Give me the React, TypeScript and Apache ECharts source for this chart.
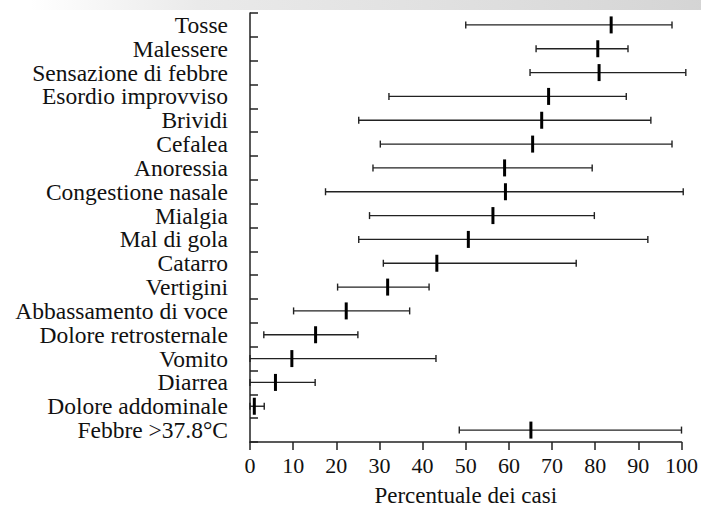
import React, { useEffect, useRef } from "react";
import * as echarts from "echarts";

const categories = [
  "Tosse",
  "Malessere",
  "Sensazione di febbre",
  "Esordio improvviso",
  "Brividi",
  "Cefalea",
  "Anoressia",
  "Congestione nasale",
  "Mialgia",
  "Mal di gola",
  "Catarro",
  "Vertigini",
  "Abbassamento di voce",
  "Dolore retrosternale",
  "Vomito",
  "Diarrea",
  "Dolore addominale",
  "Febbre >37.8°C",
];

const lowValues = [50, 66.3, 64.9, 32.2, 25.2, 30.2, 28.5, 17.5, 27.7, 25.2, 30.9, 20.3, 10.1, 3.2, 0, 0, 0, 48.5];
const midValues = [83.7, 80.6, 80.9, 69.2, 67.6, 65.5, 59.0, 59.2, 56.3, 50.6, 43.3, 31.9, 22.3, 15.2, 9.7, 5.9, 1.0, 65.1];
const highValues = [97.8, 87.6, 101, 87.2, 92.9, 97.8, 79.3, 100.4, 79.8, 92.2, 75.6, 41.5, 37.0, 25.0, 43.1, 15.1, 3.3, 100];

const xTicks = [0, 10, 20, 30, 40, 50, 60, 70, 80, 90, 100];

const FONT = "Liberation Serif";

export default function App() {
  const ref = useRef<HTMLDivElement>(null);

  useEffect(() => {
    if (!ref.current) return;
    const chart = echarts.init(ref.current, undefined, { renderer: "svg" });
    const data = categories.map((_, i) => [i, lowValues[i], midValues[i], highValues[i]]);

    chart.setOption({
      animation: false,
      backgroundColor: "#ffffff",
      textStyle: { fontFamily: FONT },
      graphic: [
        {
          type: "rect",
          left: 30,
          top: 0,
          shape: { width: 671, height: 10 },
          silent: true,
          style: {
            fill: new echarts.graphic.LinearGradient(0, 0, 1, 0, [
              { offset: 0, color: "rgba(225,225,225,0)" },
              { offset: 0.25, color: "rgba(225,225,225,0.7)" },
              { offset: 1, color: "rgba(205,205,205,0.85)" },
            ]),
          },
        },
      ],
      grid: { left: 250, right: 18, top: 13, bottom: 71, containLabel: false },
      xAxis: {
        type: "value",
        min: xTicks[0],
        max: xTicks[xTicks.length - 1],
        interval: 10,
        name: "Percentuale dei casi",
        nameLocation: "middle",
        nameGap: 42,
        nameTextStyle: { fontFamily: FONT, fontSize: 23, color: "#111" },
        axisLine: { show: true, lineStyle: { color: "#222", width: 1.5 } },
        axisTick: { show: true, inside: false, length: 8, lineStyle: { color: "#222", width: 1.5 } },
        axisLabel: { fontFamily: FONT, fontSize: 22, color: "#111", margin: 12 },
        splitLine: { show: false },
      },
      yAxis: {
        type: "category",
        inverse: true,
        data: categories,
        axisLine: { show: true, lineStyle: { color: "#222", width: 1.5 } },
        axisTick: { show: true, inside: true, length: 8, alignWithLabel: false, lineStyle: { color: "#222", width: 1.5 } },
        axisLabel: { fontFamily: FONT, fontSize: 23.5, color: "#111", margin: 22, interval: 0 },
        splitLine: { show: false },
      },
      series: [
        {
          type: "custom",
          clip: false,
          encode: { x: [1, 2, 3], y: 0 },
          data,
          renderItem: (params: any, api: any) => {
            const cat = api.value(0);
            const lo = api.coord([api.value(1), cat]);
            const mid = api.coord([api.value(2), cat]);
            const hi = api.coord([api.value(3), cat]);
            const cap = 3.5;
            const mh = 8.5;
            const lineStyle = { stroke: "#222", lineWidth: 1.4 };
            return {
              type: "group",
              children: [
                { type: "line", shape: { x1: lo[0], y1: lo[1], x2: hi[0], y2: hi[1] }, style: lineStyle },
                { type: "line", shape: { x1: lo[0], y1: lo[1] - cap, x2: lo[0], y2: lo[1] + cap }, style: lineStyle },
                { type: "line", shape: { x1: hi[0], y1: hi[1] - cap, x2: hi[0], y2: hi[1] + cap }, style: lineStyle },
                { type: "line", shape: { x1: mid[0], y1: mid[1] - mh, x2: mid[0], y2: mid[1] + mh }, style: { stroke: "#000", lineWidth: 3 } },
              ],
            };
          },
        },
      ],
    });

    return () => chart.dispose();
  }, []);

  return (
    <div
      ref={ref}
      style={{ position: "fixed", left: 0, top: 0, width: 701, height: 513, background: "#fff" }}
    />
  );
}
